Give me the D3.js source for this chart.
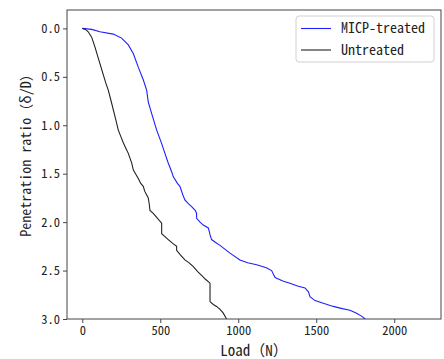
<!DOCTYPE html>
<html>
<head>
<meta charset="utf-8">
<script src="https://cdn.jsdelivr.net/npm/d3@7"></script>
<style>
    body{margin:0;background:#fff;}
    text{font-family:"Noto Sans Mono CJK JP","Noto Sans CJK JP","DejaVu Sans Mono",monospace;fill:#222;}
</style>
</head>
<body>
<svg id="chart" width="444" height="359"></svg>
<script>
// load (N) vs penetration ratio
const micpTreated=[[0,0],[60,0.01],[113,0.035],[199,0.059],[252,0.10],[295,0.17],[327,0.26],[359,0.40],[391,0.53],[413,0.64],[423,0.76],[445,0.88],[477,1.05],[509,1.19],[530,1.29],[551,1.39],[573,1.48],[583,1.53],[610,1.60],[626,1.63],[645,1.72],[658,1.77],[680,1.81],[701,1.84],[725,1.88],[733,1.91],[733,1.96],[755,2.00],[776,2.03],[808,2.06],[815,2.10],[819,2.13],[829,2.18],[855,2.21],[883,2.24],[947,2.32],[1011,2.39],[1060,2.42],[1118,2.44],[1180,2.47],[1214,2.50],[1235,2.57],[1246,2.58],[1290,2.61],[1331,2.63],[1380,2.66],[1428,2.68],[1450,2.72],[1460,2.77],[1492,2.81],[1550,2.84],[1609,2.87],[1660,2.89],[1716,2.91],[1759,2.94],[1790,2.97],[1815,3.0]];
const untreated=[[0,0],[20,0.01],[38,0.035],[60,0.09],[81,0.19],[103,0.31],[120,0.40],[135,0.48],[150,0.56],[167,0.64],[188,0.77],[210,0.91],[231,1.05],[248,1.12],[263,1.18],[280,1.24],[295,1.29],[317,1.39],[327,1.46],[345,1.51],[359,1.55],[375,1.60],[391,1.63],[400,1.68],[413,1.72],[423,1.75],[430,1.82],[434,1.88],[455,1.91],[477,1.95],[509,2.01],[509,2.12],[530,2.15],[551,2.18],[580,2.22],[605,2.25],[605,2.29],[630,2.34],[658,2.39],[685,2.42],[712,2.46],[740,2.51],[765,2.55],[790,2.59],[819,2.63],[819,2.82],[840,2.85],[861,2.87],[883,2.90],[904,2.94],[925,3.0]];

const seriesNames=['MICP-treated','Untreated'];
const xTicks=[0,500,1000,1500,2000];
const yTicks=[0,0.5,1,1.5,2,2.5,3];

const box={left:67,right:441,top:10,bottom:319};
const colors=['#1f1fff','#222'];

const svg=d3.select('#chart');

const x=d3.scaleLinear().domain([-98,2300]).range([box.left,box.right]);
const y=d3.scaleLinear().domain([-0.19,3.0]).range([box.top,box.bottom]);

svg.append('defs').append('clipPath').attr('id','plotClip')
    .append('rect')
    .attr('x',box.left).attr('y',box.top)
    .attr('width',box.right-box.left).attr('height',box.bottom-box.top);

const line=d3.line().x(d=>x(d[0])).y(d=>y(d[1]));

const plot=svg.append('g').attr('clip-path','url(#plotClip)');
[micpTreated,untreated].forEach((s,i)=>{
    plot.append('path')
        .datum(s)
        .attr('d',line)
        .attr('fill','none')
        .attr('stroke',colors[i])
        .attr('stroke-width',1.1);
});

// axes
const xAxis=svg.append('g')
    .attr('transform',`translate(0,${box.bottom})`)
    .call(d3.axisBottom(x).tickValues(xTicks).tickSize(4).tickPadding(3).tickFormat(d3.format('d')));
const yAxis=svg.append('g')
    .attr('transform',`translate(${box.left},0)`)
    .call(d3.axisLeft(y).tickValues(yTicks).tickSize(4).tickPadding(3).tickFormat(d3.format('.1f')));
[xAxis,yAxis].forEach(a=>{
    a.select('.domain').remove();
    a.selectAll('line').attr('stroke','#444');
    a.selectAll('text').style('font-size','12.5px').attr('fill','#222');
});

svg.append('rect')
    .attr('x',box.left).attr('y',box.top)
    .attr('width',box.right-box.left).attr('height',box.bottom-box.top)
    .attr('fill','none').attr('stroke','#444').attr('stroke-width',1);

// axis titles
svg.append('text')
    .attr('x',(box.left+box.right)/2).attr('y',356)
    .attr('text-anchor','middle')
    .style('font-size','15px')
    .text('Load（N）');
svg.append('text')
    .attr('transform','translate(31,152) rotate(-90)')
    .attr('text-anchor','middle')
    .style('font-size','14px')
    .text('Penetration ratio（δ/D）');

// legend
const legend=svg.append('g');
legend.append('rect')
    .attr('x',296).attr('y',16).attr('width',138).attr('height',46).attr('rx',3)
    .attr('fill','#fff').attr('stroke','#d0d0d0');
seriesNames.forEach((n,i)=>{
    const ly=28.5+i*21.5;
    legend.append('line')
        .attr('x1',301).attr('x2',331).attr('y1',ly).attr('y2',ly)
        .attr('stroke',colors[i]).attr('stroke-width',1.1);
    legend.append('text')
        .attr('x',341).attr('y',ly+4.5)
        .style('font-size','14px')
        .text(n);
});
</script>
</body>
</html>
